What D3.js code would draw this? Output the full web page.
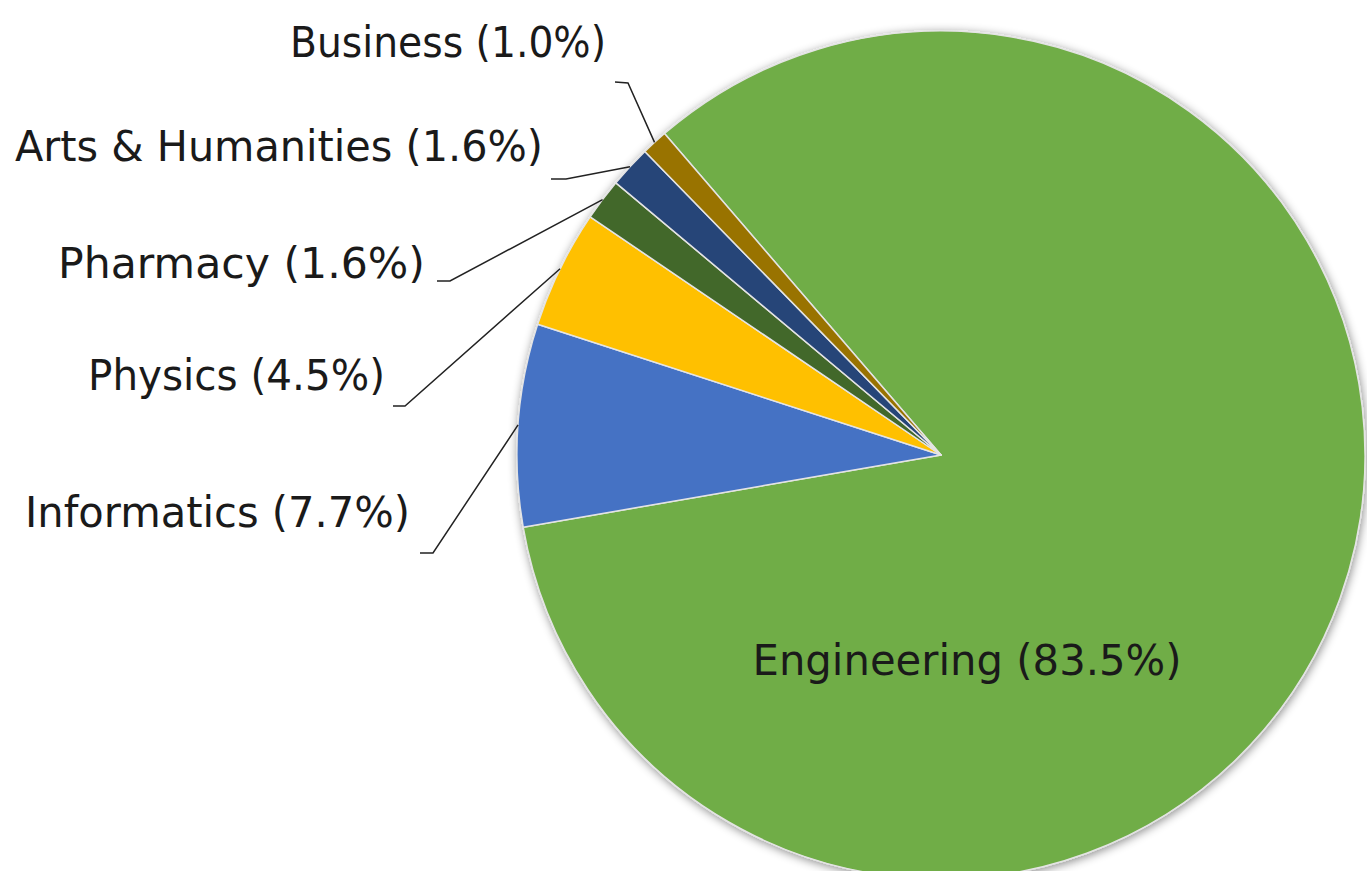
<!DOCTYPE html>
<html>
<head>
<meta charset="utf-8">
<script src="https://cdn.jsdelivr.net/npm/d3@7"></script>
<style>
  body { margin: 0; background: #fff; }
  text { font-family: "Century Gothic", "DejaVu Sans", sans-serif; fill: #1a1a1a; }
</style>
</head>
<body>
<div class="chart-container"></div>
<script>
// values, clockwise from the top-left
const categories = ["Engineering", "Informatics", "Physics", "Pharmacy", "Arts & Humanities", "Business"];
const shares = [83.5, 7.7, 4.5, 1.6, 1.6, 1.0];
const sliceColors = ["#70AD47", "#4472C4", "#FFC000", "#43682B", "#264478", "#997300"];

const svgWidth = 1367;
const svgHeight = 871;
const cx = 941, cy = 455;
const radius = 424;
// first slice starts a bit left of 12 o'clock
const firstAngle = -40.7 * Math.PI / 180;

// label layout: right end of text / baseline, and where the leader elbow sits
const labelLayout = [
    { x: 967, y: 675, anchor: "middle", w: 429, inside: true },
    { x: 410, y: 527, anchor: "end", w: 385, elbow: [433, 553], tail: [420, 553] },
    { x: 385, y: 390, anchor: "end", w: 297, elbow: [405, 406], tail: [393, 406] },
    { x: 425, y: 278, anchor: "end", w: 367, elbow: [450, 281], tail: [437, 281] },
    { x: 543, y: 161, anchor: "end", w: 528, elbow: [566, 179], tail: [551, 179] },
    { x: 606, y: 57, anchor: "end", w: 316, elbow: [628, 83], tail: [615, 82] }
];

const data = categories.map((c, i) => ({ name: c, value: shares[i], i: i }));

const svg = d3.select(".chart-container")
    .append("svg")
    .attr("width", svgWidth)
    .attr("height", svgHeight);

// soft shadow round the pie
const defs = svg.append("defs");
const shadow = defs.append("filter")
    .attr("id", "pieShadow")
    .attr("x", "-10%").attr("y", "-10%")
    .attr("width", "120%").attr("height", "120%");
shadow.append("feDropShadow")
    .attr("dx", 1).attr("dy", 2)
    .attr("stdDeviation", 5)
    .attr("flood-color", "#000")
    .attr("flood-opacity", 0.45);

const pie = d3.pie()
    .sort(null)
    .value(d => d.value)
    .startAngle(firstAngle)
    .endAngle(firstAngle + 2 * Math.PI);

const arc = d3.arc().innerRadius(0).outerRadius(radius);
const edgeArc = d3.arc().innerRadius(radius).outerRadius(radius);

const arcs = pie(data);

const g = svg.append("g")
    .attr("transform", `translate(${cx},${cy})`);

g.append("g")
    .attr("filter", "url(#pieShadow)")
    .selectAll("path")
    .data(arcs)
    .enter()
    .append("path")
    .attr("d", arc)
    .attr("fill", d => sliceColors[d.data.i])
    .attr("stroke", "#e4e4e4")
    .attr("stroke-width", 1.5)
    .attr("stroke-linejoin", "round");

// leader lines for the outside labels
svg.append("g")
    .selectAll("polyline")
    .data(arcs.filter(d => !labelLayout[d.data.i].inside))
    .enter()
    .append("polyline")
    .attr("points", d => {
        const p = edgeArc.centroid(d);
        const L = labelLayout[d.data.i];
        return [[p[0] + cx, p[1] + cy], L.elbow, L.tail].map(q => q.join(",")).join(" ");
    })
    .attr("fill", "none")
    .attr("stroke", "#222")
    .attr("stroke-width", 1.5);

svg.append("g")
    .selectAll("text")
    .data(arcs)
    .enter()
    .append("text")
    .attr("x", d => labelLayout[d.data.i].x)
    .attr("y", d => labelLayout[d.data.i].y)
    .attr("text-anchor", d => labelLayout[d.data.i].anchor)
    .attr("font-size", 43)
    .attr("textLength", d => labelLayout[d.data.i].w)
    .attr("lengthAdjust", "spacingAndGlyphs")
    .text(d => `${d.data.name} (${d.data.value.toFixed(1)}%)`);
</script>
</body>
</html>
